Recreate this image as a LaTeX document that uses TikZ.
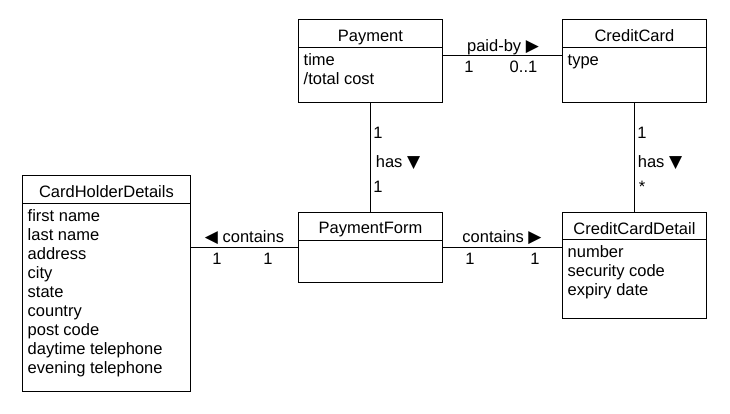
\documentclass[tikz,border=0pt]{standalone}
\usepackage{fontspec}
\setmainfont{Liberation Sans}
\newfontfamily\symfont{DejaVu Sans}
\newcommand{\tri}[1]{{\symfont\fontsize{17}{17}\selectfont #1}}
\begin{document}
\begin{tikzpicture}[x=1pt,y=1pt,
  every node/.style={font=\fontsize{16.5}{19}\selectfont, inner sep=0pt},
  box/.style={draw, line width=0.9pt, anchor=north west},
  ttl/.style={anchor=base},
  attr/.style={anchor=base west},
  lbl/.style={anchor=base},
  conn/.style={line width=0.9pt}]
\useasboundingbox[fill=white] (0,0) rectangle (730,-413);

% classes
\node[box, minimum width=144pt, minimum height=83pt] (pay) at (298,-19) {};
\node[box, minimum width=144pt, minimum height=83pt] (cc) at (562,-19) {};
\node[box, minimum width=168pt, minimum height=216pt] (chd) at (22,-175) {};
\node[box, minimum width=144pt, minimum height=70pt] (pf) at (298,-212) {};
\node[box, minimum width=144pt, minimum height=106pt] (ccd) at (562,-212) {};

% dividers
\draw[conn] ([yshift=-28pt]pay.north west) -- ([yshift=-28pt]pay.north east);
\draw[conn] ([yshift=-28pt]cc.north west) -- ([yshift=-28pt]cc.north east);
\draw[conn] ([yshift=-28pt]chd.north west) -- ([yshift=-28pt]chd.north east);
\draw[conn] ([yshift=-28pt]pf.north west) -- ([yshift=-28pt]pf.north east);
\draw[conn] ([yshift=-27pt]ccd.north west) -- ([yshift=-27pt]ccd.north east);

% titles
\node[ttl] (payT) at ([yshift=-22pt]pay.north) {Payment};
\node[ttl] (ccT) at ([yshift=-22pt]cc.north) {CreditCard};
\node[ttl] (chdT) at ([yshift=-22pt]chd.north) {CardHolderDetails};
\node[ttl] (pfT) at ([yshift=-21pt]pf.north) {PaymentForm};
\node[ttl] (ccdT) at ([yshift=-22pt]ccd.north) {CreditCardDetail};

% attributes
\node[attr] (pa1) at ([shift={(5.5,-46)}]pay.north west) {time};
\node[attr] (pa2) at ([shift={(5.5,-65)}]pay.north west) {/total cost};
\node[attr] (ca1) at ([shift={(5.5,-46)}]cc.north west) {type};
\node[attr] (h1) at ([shift={(5.5,-46)}]chd.north west) {first name};
\node[attr] (h2) at ([shift={(5.5,-65)}]chd.north west) {last name};
\node[attr] (h3) at ([shift={(5.5,-84)}]chd.north west) {address};
\node[attr] (h4) at ([shift={(5.5,-103)}]chd.north west) {city};
\node[attr] (h5) at ([shift={(5.5,-122)}]chd.north west) {state};
\node[attr] (h6) at ([shift={(5.5,-141)}]chd.north west) {country};
\node[attr] (h7) at ([shift={(5.5,-160)}]chd.north west) {post code};
\node[attr] (h8) at ([shift={(5.5,-179)}]chd.north west) {daytime telephone};
\node[attr] (h9) at ([shift={(5.5,-198)}]chd.north west) {evening telephone};
\node[attr] (d1) at ([shift={(5.5,-45)}]ccd.north west) {number};
\node[attr] (d2) at ([shift={(5.5,-64)}]ccd.north west) {security code};
\node[attr] (d3) at ([shift={(5.5,-83)}]ccd.north west) {expiry date};

% connectors
\draw[conn] ([yshift=-36pt]pay.north east) -- ([yshift=-36pt]cc.north west);
\draw[conn] (pay.south) -- (pf.north);
\draw[conn] (cc.south) -- (ccd.north);
\draw[conn] (pf.west) -- (pf.west -| chd.east);
\draw[conn] (pf.east) -- (pf.east -| ccd.west);

% labels
\node[lbl] (l1) at (503,-51) {paid-by \tri{▶}};
\node[lbl] (l2) at (469,-72) {1};
\node[lbl] (l3) at (523.5,-72) {0..1};
\node[lbl] (l4) at (378,-138) {1};
\node[lbl] (l5) at (398,-167) {has \tri{▼}};
\node[lbl] (l6) at (378,-192) {1};
\node[lbl] (l7) at (642,-138) {1};
\node[lbl] (l8) at (660,-167) {has \tri{▼}};
\node[lbl] (l9) at (642,-192) {*};
\node[lbl] (l10) at (244.5,-242) {\tri{◀} contains};
\node[lbl] (l11) at (217,-264) {1};
\node[lbl] (l12) at (268,-264) {1};
\node[lbl] (l13) at (502,-242) {contains \tri{▶}};
\node[lbl] (l14) at (470,-264) {1};
\node[lbl] (l15) at (535,-264) {1};
\end{tikzpicture}
\end{document}
